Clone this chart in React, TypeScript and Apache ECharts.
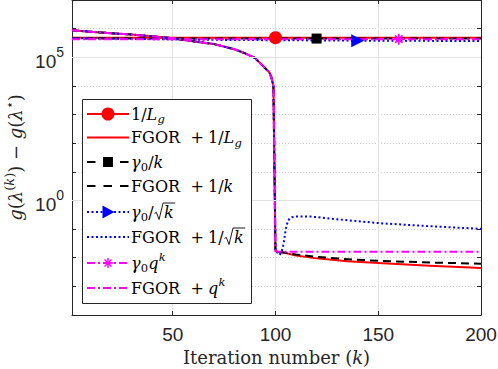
import React, { useEffect, useRef } from 'react';
import * as echarts from 'echarts';

// ---------- data ----------
// shared FGOR trajectory before the switch (k < 100)
const kPre = [1, 10, 20, 30, 40, 50, 60, 70, 80, 85, 88, 90, 92, 94, 96, 97, 98, 99];
const fgorPre = [8.7e5, 7.8e5, 6.9e5, 6.2e5, 5.4e5, 4.6e5, 3.6e5, 2.9e5, 1.9e5, 1.4e5, 1.1e5, 9.5e4, 6.8e4, 4.9e4, 3.5e4, 3.0e4, 2.0e4, 1.0e4];

// after the switch (k >= 100)
const kPostLg = [100, 101, 105, 110, 120, 135, 150, 175, 200];
const fgorLgPost = [0.017, 0.0162, 0.0145, 0.012, 0.0095, 0.0076, 0.0065, 0.0052, 0.0044];
const kPostK = [100, 101, 105, 110, 120, 135, 150, 175, 200];
const fgorKPost = [0.017, 0.0162, 0.0148, 0.0129, 0.0107, 0.0089, 0.0078, 0.0068, 0.0062];
const kPostSqrt = [100, 101, 102, 103, 104, 105, 106, 107, 108, 110, 117, 130, 150, 175, 200];
const fgorSqrtPost = [0.017, 0.015, 0.0126, 0.016, 0.032, 0.1, 0.19, 0.24, 0.26, 0.275, 0.275, 0.22, 0.162, 0.126, 0.102];
const kPostQ = [100, 101, 200];
const fgorQPost = [0.017, 0.0163, 0.0163];

// step-size baselines (nearly flat)
const kLg = [1, 100, 200];
const valLg = [4.85e5, 4.85e5, 4.85e5];
const kK = [1, 120, 200];
const valK = [4.5e5, 4.5e5, 4.5e5];
const kS = [1, 60, 140, 200];
const valS = [4.7e5, 4.1e5, 3.8e5, 3.7e5];
const kQ = [1, 160, 200];
const valQ = [4.3e5, 4.3e5, 4.3e5];
const markerK = [100, 120, 140, 160];

const seriesNames = ['1/Lg', 'FGOR + 1/Lg', 'γ0/k', 'FGOR + 1/k', 'γ0/√k', 'FGOR + 1/√k', 'γ0 q^k', 'FGOR + q^k'];

const xTicks = [50, 100, 150, 200];
const yLabelExps = [0, 5];
const yMinExp = -4;
const yMaxExp = 7;

// ---------- styling ----------
const SERIF = 'DejaVu Serif';
const SANS = 'Liberation Sans';
const AX = '#262626';

const fam = [
  { color: '#ff0000', dash: 'solid' as any, symbol: 'circle', size: 13, rotate: 0 },
  { color: '#000000', dash: [8, 5], symbol: 'rect', size: 10, rotate: 0 },
  { color: '#0000ff', dash: [2, 2.5], symbol: 'triangle', size: 13, rotate: -90 },
  { color: '#ff00ff', dash: [8, 3, 2, 3], symbol: 'path://M5,0L5,10M0,5L10,5M1.6,1.6L8.4,8.4M1.6,8.4L8.4,1.6', size: 11, rotate: 0 },
];

type Piece = { t: string; it?: boolean; sub?: boolean; sup?: boolean; sqrt?: boolean };
const legendText: Piece[][] = [
  [{ t: '1/' }, { t: 'L', it: true }, { t: 'g', it: true, sub: true }],
  [{ t: 'FGOR' }, { t: '+' }, { t: '1/' }, { t: 'L', it: true }, { t: 'g', it: true, sub: true }],
  [{ t: 'γ', it: true }, { t: '0', sub: true }, { t: '/' }, { t: 'k', it: true }],
  [{ t: 'FGOR' }, { t: '+' }, { t: '1/' }, { t: 'k', it: true }],
  [{ t: 'γ', it: true }, { t: '0', sub: true }, { t: '/' }, { t: 'k', it: true, sqrt: true }],
  [{ t: 'FGOR' }, { t: '+' }, { t: '1/' }, { t: 'k', it: true, sqrt: true }],
  [{ t: 'γ', it: true }, { t: '0', sub: true }, { t: 'q', it: true }, { t: 'k', it: true, sup: true }],
  [{ t: 'FGOR' }, { t: '+' }, { t: 'q', it: true }, { t: 'k', it: true, sup: true }],
];

function buildLegend(): any[] {
  const els: any[] = [];
  const Z = 100;
  const box = { x: 82.5, y: 99.5, w: 169, h: 204 };
  const rowsY = [114, 137.5, 162, 186, 212, 237, 263, 288];
  const lx0 = 87, lx1 = 129, mx = 108, tx = 131;
  const big = 16, small = 11.5;
  els.push({ type: 'rect', z: Z, shape: { x: box.x, y: box.y, width: box.w, height: box.h }, style: { fill: '#ffffff', stroke: AX, lineWidth: 1 } });
  const canvas = document.createElement('canvas');
  const ctx = canvas.getContext('2d')!;
  const measure = (t: string, it: boolean, size: number) => {
    ctx.font = `${it ? 'italic ' : ''}${size}px "${SERIF}"`;
    return ctx.measureText(t).width;
  };

  legendText.forEach((pieces, i) => {
    const yc = rowsY[i];
    const fi = Math.floor(i / 2);
    const f = fam[fi];
    const withMarker = i % 2 === 0;
    const legDash = f.dash === 'solid' ? null : (fi === 1 ? [8.5, 8] : f.dash);
    els.push({ type: 'line', z: Z, shape: { x1: lx0, y1: yc, x2: lx1, y2: yc }, style: { stroke: f.color, lineWidth: 2, lineDash: legDash, lineCap: 'butt' } });
    if (withMarker) {
      if (fi === 0) els.push({ type: 'circle', z: Z + 1, shape: { cx: mx, cy: yc, r: 6.5 }, style: { fill: f.color } });
      if (fi === 1) els.push({ type: 'rect', z: Z + 1, shape: { x: mx - 5, y: yc - 5, width: 10, height: 10 }, style: { fill: f.color } });
      if (fi === 2) els.push({ type: 'polygon', z: Z + 1, shape: { points: [[mx - 5.5, yc - 6.5], [mx - 5.5, yc + 6.5], [mx + 6.5, yc]] }, style: { fill: f.color } });
      if (fi === 3) {
        const r = 5;
        [[0, r], [r, 0], [r * 0.7, r * 0.7], [r * 0.7, -r * 0.7]].forEach(([dx, dy]) => {
          els.push({ type: 'line', z: Z + 1, shape: { x1: mx - dx, y1: yc - dy, x2: mx + dx, y2: yc + dy }, style: { stroke: f.color, lineWidth: 1.5 } });
        });
      }
    }
    let x = tx;
    pieces.forEach((p) => {
      const size = p.sub || p.sup ? small : big;
      if (p.t === '+') x += 10.5;
      if (p.sub || p.sup) x += 0.3;
      const w = measure(p.t, !!p.it, size);
      const y = yc + (p.sub ? 5 : p.sup ? -6.5 : 0);
      if (p.sqrt) {
        const x0 = x + 1;
        const xe = x0 + 9.5 + w + 1.5;
        els.push({ type: 'polyline', z: Z, shape: { points: [[x0, yc + 1.5], [x0 + 1.8, yc + 0.3], [x0 + 4.5, yc + 7.5], [x0 + 8.5, yc - 9], [xe, yc - 9]] }, style: { stroke: '#000', lineWidth: 0.9, fill: null } });
        x = x0 + 9.5;
      }
      els.push({
        type: 'text', z: Z,
        style: {
          text: p.t, x, y,
          fontFamily: SERIF, fontSize: size, fontStyle: p.it ? 'italic' : 'normal',
          fill: '#000', align: 'left', verticalAlign: 'middle', textAlign: 'left', textVerticalAlign: 'middle',
        },
      });
      x += w;
      if (p.sqrt) x += 1.5;
      if (p.t === '+') x += 4;
    });
  });
  return els;
}

function pairs(ks: number[], vs: number[]) {
  return ks.map((k, i) => [k, vs[i]]);
}

export default function App() {
  const ref = useRef<HTMLDivElement>(null);
  useEffect(() => {
    const chart = echarts.init(ref.current!, null, { renderer: 'svg' });

    const markerSeries = (idx: number, ks: number[], vs: number[]) => {
      const f = fam[idx];
      return {
        type: 'line', name: seriesNames[idx * 2], xAxisIndex: 0, yAxisIndex: 0,
        data: ks.map((k, i) => (k === markerK[idx] ? { value: [k, vs[i]] } : { value: [k, vs[i]], symbol: 'none' })),
        symbol: f.symbol, symbolSize: f.size, symbolRotate: f.rotate, showSymbol: true,
        lineStyle: { color: f.color, width: 2, type: f.dash, cap: 'butt' },
        itemStyle: idx === 3 ? { color: f.color, borderColor: f.color, borderWidth: 1.6 } : { color: f.color, borderWidth: 0 },
        silent: true, z: 2,
      };
    };
    const fgorSeries = (idx: number, ks: number[], vs: number[]) => {
      const f = fam[idx];
      return {
        type: 'line', name: seriesNames[idx * 2 + 1], xAxisIndex: 0, yAxisIndex: 0,
        data: pairs(kPre, fgorPre).concat(pairs(ks, vs)),
        symbol: 'none',
        lineStyle: { color: f.color, width: 2, type: f.dash, cap: 'butt', join: 'round' },
        silent: true, z: 2,
      };
    };

    const valueYAxis = (position: 'left' | 'right', labels: boolean) => ({
      type: 'value', position, min: yMinExp, max: yMaxExp, interval: 1,
      axisLine: { show: true, onZero: false, lineStyle: { color: AX, width: 1 } },
      axisTick: { show: true, inside: true, length: 4, lineStyle: { color: AX } },
      axisLabel: labels
        ? {
            show: true, margin: 8, color: AX,
            formatter: (v: number) => (yLabelExps.includes(Math.round(v)) ? `{b|10}{s|${Math.round(v)}}` : ''),
            rich: {
              b: { fontFamily: SANS, fontSize: 19, color: AX, padding: [9, 0, 0, 0] },
              s: { fontFamily: SANS, fontSize: 14, color: AX, padding: [0, 0, 10, 0] },
            },
          }
        : { show: false },
      splitLine: labels ? { show: true, lineStyle: { color: '#cfcfcf', type: [1, 2], width: 1 } } : { show: false },
      name: labels ? '{i|g}{r|(}{i|λ}{sr|(}{si|k}{sr|)}{r|) − }{i|g}{r|(}{i|λ}{sr|⋆}{r|)}' : '',
      nameLocation: 'middle', nameGap: 43, nameRotate: 90,
      nameTextStyle: {
        rich: {
          i: { fontFamily: SERIF, fontStyle: 'italic', fontSize: 18, color: AX },
          r: { fontFamily: SERIF, fontSize: 18, color: AX },
          si: { fontFamily: SERIF, fontStyle: 'italic', fontSize: 13, color: AX, padding: [0, 0, 11, 0] },
          sr: { fontFamily: SERIF, fontSize: 13, color: AX, padding: [0, 0, 11, 0] },
        },
      },
    });

    const xAxisDef = (position: 'bottom' | 'top', labels: boolean) => ({
      type: 'value', position, min: 1, max: 200, splitNumber: 4,
      axisLine: { show: true, onZero: false, lineStyle: { color: AX, width: 1 } },
      axisTick: { show: true, inside: true, length: 4, lineStyle: { color: AX } },
      axisLabel: labels
        ? { show: true, margin: 10, color: AX, fontFamily: SANS, fontSize: 19, formatter: (v: number) => (xTicks.includes(v) ? String(v) : '') }
        : { show: false },
      splitLine: labels ? { show: true, lineStyle: { color: '#e2e2e2', width: 1, type: 'solid' } } : { show: false },
      name: labels ? '{r|Iteration number (}{i|k}{r|)}' : '',
      nameLocation: 'middle', nameGap: 29,
      nameTextStyle: {
        rich: {
          r: { fontFamily: SERIF, fontSize: 18, lineHeight: 21, color: AX },
          i: { fontFamily: SERIF, fontStyle: 'italic', fontSize: 18, lineHeight: 21, color: AX },
        },
      },
    });

    const option: any = {
      animation: false,
      backgroundColor: '#ffffff',
      grid: { left: 72, right: 17, top: 0, bottom: 54, containLabel: false, outerBoundsMode: 'none' },
      xAxis: [xAxisDef('bottom', true), xAxisDef('top', false)],
      yAxis: [
        { type: 'log', logBase: 10, min: Math.pow(10, yMinExp), max: Math.pow(10, yMaxExp), show: false, position: 'left' },
        valueYAxis('left', true),
        valueYAxis('right', false),
      ],
      series: [
        {
          type: 'line', xAxisIndex: 0, yAxisIndex: 0, data: [], z: 1, silent: true, symbol: 'none',
          markLine: {
            silent: true, symbol: 'none', label: { show: false },
            lineStyle: { color: '#e2e2e2', type: 'solid', width: 1 },
            data: yLabelExps.map((e) => ({ yAxis: Math.pow(10, e) })),
          },
        },
        markerSeries(0, kLg, valLg),
        fgorSeries(0, kPostLg, fgorLgPost),
        markerSeries(1, kK, valK),
        fgorSeries(1, kPostK, fgorKPost),
        markerSeries(2, kS, valS),
        fgorSeries(2, kPostSqrt, fgorSqrtPost),
        markerSeries(3, kQ, valQ),
        fgorSeries(3, kPostQ, fgorQPost),
      ],
      graphic: buildLegend(),
    };
    chart.setOption(option);
    return () => chart.dispose();
  }, []);
  return <div ref={ref} style={{ position: 'fixed', left: 0, top: 0, width: 498, height: 369, background: '#fff' }} />;
}
